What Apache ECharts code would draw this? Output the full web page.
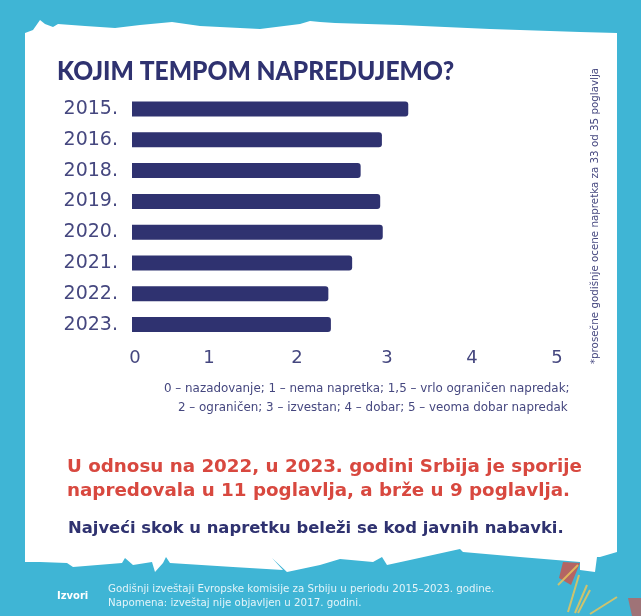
<!DOCTYPE html>
<html>
<head>
<meta charset="utf-8">
<style>
  html, body { margin: 0; padding: 0; background: #3fb5d5; }
  #chart { width: 641px; height: 616px; }
</style>
<script src="https://cdn.jsdelivr.net/npm/echarts@6/dist/echarts.min.js"></script>
</head>
<body>
<div id="chart"></div>
<script>
/* Kojim tempom napredujemo - horizontal bars on a torn paper sheet */
const years = ['2015.', '2016.', '2018.', '2019.', '2020.', '2021.', '2022.', '2023.'];
const scores = [3.25, 2.94, 2.69, 2.92, 2.95, 2.59, 2.31, 2.34];
const scaleLines = [
  '0 – nazadovanje; 1 – nema napretka; 1,5 – vrlo ograničen napredak;',
  '2 – ograničen; 3 – izvestan; 4 – dobar; 5 – veoma dobar napredak'
];
const redLines = [
  'U odnosu na 2022, u 2023. godini Srbija je sporije',
  'napredovala u 11 poglavlja, a brže u 9 poglavlja.'
];
const boldLine = 'Najveći skok u napretku beleži se kod javnih nabavki.';
const sourceLines = [
  'Godišnji izveštaji Evropske komisije za Srbiju u periodu 2015–2023. godine.',
  'Napomena: izveštaj nije objavljen u 2017. godini.'
];
const sideNote = '*prosečne godišnje ocene napretka za 33 od 35 poglavlja';

const NAVY = '#2f3270';
const INK = '#45477f';
const RED = '#d8483f';
const BODY = '"DejaVu Sans", sans-serif';

// torn edge of the paper, clockwise from top left
const paper = [
  [25,33],[33,30],[40,20],[45,24],[53,27],[58,24],[85,26],[115,28],[140,25],[172,22],[200,26],
  [260,29],[300,24],[310,21],[320,22],[335,23],[400,25],[490,29],[580,32],[617,33],
  [617,552],[600,557],[597,557],[595,572],[580,570],[580,562],[520,557],[463,552],[460,549],
  [410,560],[387,565],[382,557],[373,562],[340,559],[320,565],[287,572],[272,558],[283,570],
  [233,567],[170,563],[166,557],[163,563],[155,572],[152,562],[133,565],[125,558],[122,563],
  [73,567],[67,563],[40,562],[25,562]
];

const text = (x, y, str, font, fill, extra) => Object.assign({
  type: 'text', x, y, z: 5,
  style: { text: str, font, fill, textVerticalAlign: 'middle' }
}, extra);

const line = (x1, y1, x2, y2) => ({
  type: 'line', z: 2,
  shape: { x1, y1, x2, y2 },
  style: { stroke: '#e6c65c', lineWidth: 2, opacity: 0.85 }
});

// per-label nudges, the printed tick labels do not sit quite under their values
const tickPad = { 0: [0, 0, 0, 6], 1: [0, 16, 0, 0], 2: [0, 10, 0, 0] };
const tickRich = {};
Object.keys(tickPad).forEach((k) => {
  tickRich['t' + k] = { padding: tickPad[k], color: INK, fontFamily: BODY, fontSize: 18 };
});

const chart = echarts.init(document.getElementById('chart'), null, { renderer: 'canvas' });
chart.setOption({
  backgroundColor: '#3fb5d5',
  animation: false,
  grid: { left: 132, right: 84, top: 93.6, height: 246.4, containLabel: false },
  xAxis: {
    type: 'value', min: 0, max: 5, interval: 1, z: 10,
    axisLine: { show: false }, axisTick: { show: false }, splitLine: { show: false },
    axisLabel: {
      color: INK, fontFamily: BODY, fontSize: 18, margin: 9,
      formatter: (v) => (tickPad[v] ? '{t' + v + '|' + v + '}' : String(v)),
      rich: tickRich
    }
  },
  yAxis: {
    type: 'category', inverse: true, data: years, z: 10,
    axisLine: { show: false }, axisTick: { show: false },
    axisLabel: { color: INK, fontFamily: BODY, fontSize: 19, margin: 14 }
  },
  series: [{
    type: 'bar', data: scores, barWidth: 15, z: 6,
    itemStyle: { color: NAVY, borderRadius: [0, 3, 3, 0] }
  }],
  graphic: [
    { type: 'polygon', z: 1, shape: { points: paper }, style: { fill: '#fff' } },
    // kite doodle, bottom right
    { type: 'polygon', z: 2, shape: { points: [[563,562],[580,563],[571,585],[559,578]] },
      style: { fill: '#c9574f', opacity: 0.85 } },
    { type: 'polygon', z: 2, shape: { points: [[628,598],[641,598],[641,616],[632,616]] },
      style: { fill: '#c9574f', opacity: 0.7 } },
    line(578, 565, 558, 585), line(579, 575, 568, 612), line(587, 585, 575, 613),
    line(590, 590, 578, 613), line(617, 597, 590, 614),
    text(57, 71, 'KOJIM TEMPOM NAPREDUJEMO?', '900 27px Lato, sans-serif', NAVY, { scaleX: 0.91 }),
    text(164, 389, scaleLines[0], '11.9px ' + BODY, INK),
    text(178, 408, scaleLines[1], '11.9px ' + BODY, INK),
    text(67, 467, redLines[0], '700 18.3px ' + BODY, RED),
    text(67, 491, redLines[1], '700 18.3px ' + BODY, RED),
    text(68, 529, boldLine, '700 16.4px ' + BODY, NAVY),
    text(57, 596, 'Izvori', '700 10px ' + BODY, '#fff'),
    text(108, 589, sourceLines[0], '10.25px ' + BODY, '#e3f4f9'),
    text(108, 603, sourceLines[1], '10.25px ' + BODY, '#e3f4f9'),
    {
      type: 'text', x: 595, y: 216, z: 5, rotation: Math.PI / 2,
      style: { text: sideNote, font: '10.3px ' + BODY, fill: INK,
        textAlign: 'center', textVerticalAlign: 'middle' }
    }
  ]
});
window.addEventListener('resize', () => chart.resize());
</script>
</body>
</html>
